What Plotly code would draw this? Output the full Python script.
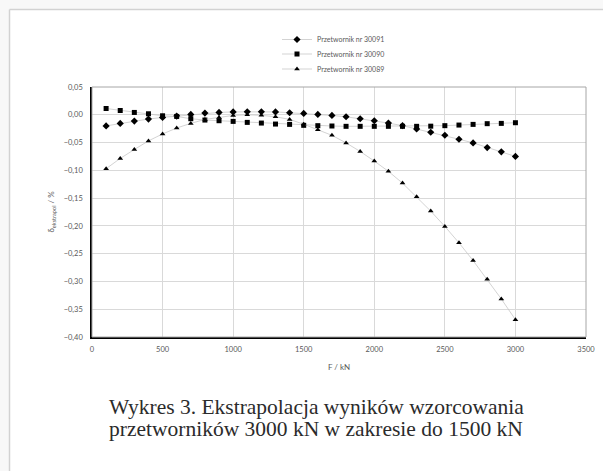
import plotly.graph_objects as go

# ---- data ----
force_kN = [100, 200, 300, 400, 500, 600, 700, 800, 900, 1000,
            1100, 1200, 1300, 1400, 1500, 1600, 1700, 1800, 1900, 2000,
            2100, 2200, 2300, 2400, 2500, 2600, 2700, 2800, 2900, 3000]

p30091 = [-0.020, -0.0155, -0.0113, -0.0077, -0.0048, -0.0024, 0.0006, 0.0030, 0.0042, 0.0052,
          0.0054, 0.0054, 0.0052, 0.0036, 0.0024, 0.0006, -0.0012, -0.0036, -0.0071, -0.0107,
          -0.0149, -0.0196, -0.0256, -0.0315, -0.0369, -0.0440, -0.0506, -0.0590, -0.0667, -0.0750]

p30090 = [0.0113, 0.0077, 0.0042, 0.0018, -0.0018, -0.0030, -0.0071, -0.0095, -0.0107, -0.0119,
          -0.0137, -0.0149, -0.0167, -0.0173, -0.0190, -0.0196, -0.0202, -0.0208, -0.0208, -0.0208,
          -0.0208, -0.0208, -0.0208, -0.0205, -0.0196, -0.0185, -0.0173, -0.0160, -0.0155, -0.0143]

p30089 = [-0.0970, -0.0786, -0.0625, -0.0470, -0.0345, -0.0238, -0.0155, -0.0084, -0.0048, -0.0012,
          0.0000, -0.0010, -0.0036, -0.0083, -0.0170, -0.0268, -0.0370, -0.0506, -0.0660, -0.0833,
          -0.1018, -0.1230, -0.1476, -0.1734, -0.2010, -0.2305, -0.2624, -0.2960, -0.3315, -0.3688]

names = ["Przetwornik nr 30091", "Przetwornik nr 30090", "Przetwornik nr 30089"]
x_ticks = [0, 500, 1000, 1500, 2000, 2500, 3000, 3500]
caption_lines = ["Wykres 3. Ekstrapolacja wyników wzorcowania",
                 "przetworników 3000 kN w zakresie do 1500 kN"]

# ---- layout geometry (pixels) ----
W, H = 603, 471
L, R, T, B = 92, 586, 87, 337


def px_x(px):
    return (px - L) / (R - L)


def px_y(py):
    return (B - py) / (B - T)


fig = go.Figure()
series = [(p30091, "diamond", 5.5, "legend"),
          (p30090, "square", 5, "legend2"),
          (p30089, "triangle-up", 5, "legend3")]
for (vals, sym, sz, lg), nm in zip(series, names):
    fig.add_trace(go.Scatter(
        x=force_kN, y=vals, name=nm, mode="lines+markers",
        line=dict(color="#c8c8c8", width=0.8),
        marker=dict(symbol=sym, size=sz, color="#000000", line=dict(width=0)),
        legend=lg))

font_sans = "Lato, 'Liberation Sans', sans-serif"
leg_common = dict(x=px_x(277), xanchor="left", yanchor="middle",
                  bgcolor="rgba(0,0,0,0)", borderwidth=0,
                  font=dict(family=font_sans, size=7, color="#595959"))

frame_col = "#d2d2d2"
shapes = [
    dict(type="rect", xref="paper", yref="paper",
         x0=px_x(9.5), x1=px_x(W), y0=px_y(H), y1=px_y(9.5),
         fillcolor="white", line=dict(width=0), layer="below"),
    dict(type="line", xref="paper", yref="paper",
         x0=px_x(9.5), x1=px_x(9.5), y0=px_y(H), y1=px_y(9.5),
         line=dict(color=frame_col, width=1.5), layer="below"),
    dict(type="line", xref="paper", yref="paper",
         x0=px_x(9.5), x1=px_x(W), y0=px_y(9.5), y1=px_y(9.5),
         line=dict(color=frame_col, width=1.5), layer="below"),
    dict(type="rect", xref="paper", yref="paper", x0=0, x1=1, y0=0, y1=1,
         line=dict(color="#a6a6a6", width=1), fillcolor="rgba(0,0,0,0)", layer="above"),
]

cap_font = dict(family="'Liberation Serif', serif", size=21.5, color="#2b2b2b")
annotations = [
    dict(text=caption_lines[0], xref="paper", yref="paper", x=px_x(316), y=px_y(407),
         xanchor="center", yanchor="middle", showarrow=False, font=cap_font),
    dict(text=caption_lines[1], xref="paper", yref="paper", x=px_x(316), y=px_y(429),
         xanchor="center", yanchor="middle", showarrow=False, font=cap_font),
]

fig.update_layout(
    width=W, height=H, autosize=False,
    margin=dict(l=L, r=W - R, t=T, b=H - B, pad=0, autoexpand=False),
    paper_bgcolor="#f8f8f8", plot_bgcolor="rgba(0,0,0,0)",
    separators=", ",
    showlegend=True,
    legend=dict(**leg_common, y=px_y(39.5)),
    legend2=dict(**leg_common, y=px_y(54)),
    legend3=dict(**leg_common, y=px_y(69)),
    shapes=shapes,
    annotations=annotations,
    xaxis=dict(range=[0, 3500], tickvals=x_ticks, showgrid=True, gridcolor="#d9d9d9",
               gridwidth=1, zeroline=False, showline=True, linecolor="#000000", linewidth=1.5,
               ticks="", ticklabelstandoff=4, automargin=False,
               tickfont=dict(family=font_sans, size=7.5, color="#595959"),
               title=dict(text="F / kN", standoff=12,
                          font=dict(family=font_sans, size=8, color="#595959"))),
    yaxis=dict(range=[-0.40, 0.05], dtick=0.05, tick0=0, tickformat=".2f", showgrid=True,
               gridcolor="#d9d9d9", gridwidth=1, zeroline=False, showline=True,
               linecolor="#000000", linewidth=1.5, ticks="", ticklabelstandoff=6,
               automargin=False,
               tickfont=dict(family=font_sans, size=7.5, color="#595959"),
               title=dict(text="δ<sub>ekstrapol</sub> / %", standoff=8,
                          font=dict(family=font_sans, size=8, color="#595959"))),
)

page_js = ("document.documentElement.style.overflow='hidden';"
           "document.body.style.margin='0';document.body.style.overflow='hidden';")
fig.write_html("out.html", config={"responsive": False}, post_script=page_js)
